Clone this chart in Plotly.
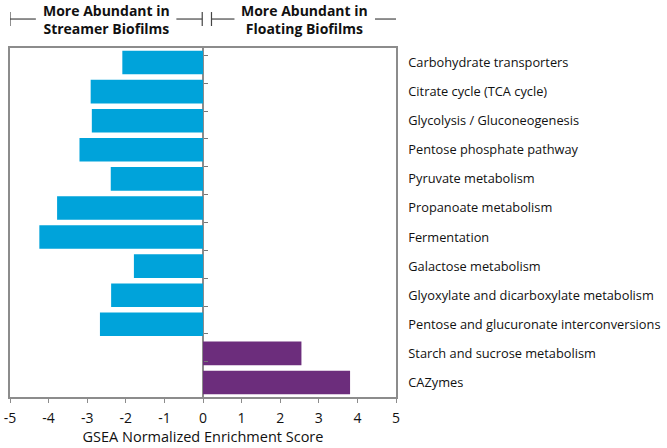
import plotly.graph_objects as go

categories = [
    "Carbohydrate transporters",
    "Citrate cycle (TCA cycle)",
    "Glycolysis / Gluconeogenesis",
    "Pentose phosphate pathway",
    "Pyruvate metabolism",
    "Propanoate metabolism",
    "Fermentation",
    "Galactose metabolism",
    "Glyoxylate and dicarboxylate metabolism",
    "Pentose and glucuronate interconversions",
    "Starch and sucrose metabolism",
    "CAZymes",
]
scores = [-2.09, -2.91, -2.88, -3.20, -2.39, -3.78, -4.24, -1.79, -2.38, -2.67, 2.55, 3.81]
x_ticks = [-5, -4, -3, -2, -1, 0, 1, 2, 3, 4, 5]

BLUE = "#00A3DA"
PURPLE = "#6C2D7C"
GRAY = "#8c8c8c"
FONT = "Open Sans"

colors = [BLUE if s < 0 else PURPLE for s in scores]

fig = go.Figure()
fig.add_trace(go.Bar(
    x=scores, y=categories, orientation="h",
    marker=dict(color=colors, line=dict(width=0)),
    hoverinfo="x+y",
))
# invisible trace so the zero-line tick axis has something to hold
fig.add_trace(go.Scatter(
    x=[0] * len(categories), y=categories, yaxis="y2",
    mode="markers", marker=dict(opacity=0), hoverinfo="skip", showlegend=False,
))

fig.update_layout(
    width=667, height=448,
    margin=dict(l=10, r=271, t=48, b=51, autoexpand=False),
    paper_bgcolor="white", plot_bgcolor="white",
    font=dict(family=FONT, size=12, color="#111"),
    showlegend=False,
    bargap=0.19,
    xaxis=dict(
        range=[-5, 5], tickvals=x_ticks, ticktext=[str(v) for v in x_ticks],
        showgrid=False, zeroline=True, zerolinecolor=GRAY, zerolinewidth=1.5,
        showline=True, linecolor=GRAY, linewidth=1.5, mirror=True,
        ticks="outside", ticklen=4, tickcolor=GRAY, tickwidth=1, ticklabelstandoff=3,
        tickfont=dict(size=14), fixedrange=True, automargin=False,
        title=dict(text="GSEA Normalized Enrichment Score", font=dict(size=14.5), standoff=6),
    ),
    yaxis=dict(
        side="right", autorange="reversed", categoryorder="array", categoryarray=categories,
        showgrid=False, showline=True, linecolor=GRAY, linewidth=1.5, mirror=True,
        ticks="", ticklabelstandoff=8, tickfont=dict(size=12.8), fixedrange=True,
        automargin=False,
    ),
    yaxis2=dict(
        overlaying="y", anchor="free", position=0.5, side="right",
        autorange="reversed", categoryorder="array", categoryarray=categories,
        showticklabels=False, ticks="outside", tickson="boundaries",
        ticklen=4, tickwidth=1.2, tickcolor="#777", showgrid=False, showline=False,
        zeroline=False, fixedrange=True, automargin=False, layer="above traces",
    ),
)

# bracket headers above the plot
bracket_y = 1.083
for x0, x1, label in [(-5, -0.02, "More Abundant in<br>Streamer Biofilms"),
                      (0.22, 5.05, "More Abundant in<br>Floating Biofilms")]:
    mid = (x0 + x1) / 2
    for a, b in [(x0, mid - 1.82), (mid + 1.82, x1)]:
        fig.add_shape(type="line", xref="x", yref="paper", x0=a, x1=b,
                      y0=bracket_y, y1=bracket_y, line=dict(color="#444", width=1.2))
    for xe in (x0, x1):
        fig.add_shape(type="line", xref="x", yref="paper", x0=xe, x1=xe,
                      y0=bracket_y - 0.02, y1=bracket_y + 0.02, line=dict(color="#444", width=1.2))
    fig.add_annotation(x=mid, y=bracket_y, xref="x", yref="paper", text="<b>" + label + "</b>",
                       showarrow=False, font=dict(size=14, color="#111"), yanchor="middle")

# drop the page's default body margin so the figure sits at the window origin
fig.write_html("out.html", config={"displayModeBar": False},
               post_script="document.body.style.margin='0px';")
